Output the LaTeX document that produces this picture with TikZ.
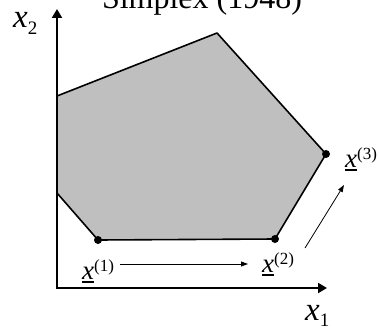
\documentclass[tikz,border=0pt]{standalone}
\usepackage{fontspec}
\setmainfont{Liberation Serif}
\usetikzlibrary{arrows.meta}
\newcommand{\ulx}{\leavevmode\setbox0\hbox{\itshape x}\rlap{\rule[-3.5pt]{\wd0}{1.6pt}}\box0}
\newcommand{\supr}[1]{\raisebox{7.5pt}{\fontsize{17}{17}\selectfont(#1)}}
\newcommand{\subr}[1]{\raisebox{-6pt}{\fontsize{19}{19}\selectfont#1}}
\begin{document}
\begin{tikzpicture}[x=1pt,y=-1pt,
  axis/.style={line width=2pt,line join=miter,{Triangle[length=9pt,width=10pt]}-{Triangle[length=9pt,width=10pt]}},
  edge/.style={line width=1.6pt,line join=round},
  region/.style={fill=black!25},
  move/.style={line width=0.8pt,-{Triangle[length=7pt,width=5pt]}},
  vertex/.style={circle,fill=black,inner sep=0pt,minimum size=8pt},
  lbl/.style={inner sep=0pt,anchor=base west,font=\fontsize{27}{27}\selectfont},
  axlbl/.style={inner sep=0pt,anchor=base west,font=\fontsize{33}{33}\selectfont\itshape},
  title/.style={inner sep=0pt,anchor=base,font=\fontsize{32}{32}\selectfont}]
\useasboundingbox (0,0) rectangle (379,329);
% polygon corners
\coordinate (p1) at (57,96);
\coordinate (p2) at (217,33);
\coordinate (p3) at (326,154);
\coordinate (p4) at (275,239);
\coordinate (p5) at (98,240);
\coordinate (p6) at (57,193);
\fill[region] (p1) -- (p2) -- (p3) -- (p4) -- (p5) -- (p6) -- cycle;
\draw[edge] (p1) -- (p2) -- (p3) -- (p4) -- (p5) -- (p6);
% axes
\coordinate (O) at (57,288);
\coordinate (Y) at (57,9);
\coordinate (X) at (327,288);
\draw[axis] (Y) -- (O) -- (X);
% vertices
\node[vertex] (v1) at (p5) {};
\node[vertex] (v2) at (p4) {};
\node[vertex] (v3) at (p3) {};
% labels
\node[title] (t) at (202,9) {Simplex (1948)};
\node[axlbl] (lx2) at (13,28) {x\subr{\upshape 2}};
\node[axlbl] (lx1) at (305,320) {x\subr{\upshape 1}};
\node[lbl] (l1) at (82,279) {\ulx\supr{1}};
\node[lbl] (l2) at (262,272) {\ulx\supr{2}};
\node[lbl] (l3) at (345,167) {\ulx\supr{3}};
% moves
\coordinate (a1s) at (120,264);
\coordinate (a1e) at (248,264);
\coordinate (a2s) at (305,248);
\coordinate (a2e) at (344,185);
\draw[move] (a1s) -- (a1e);
\draw[move] (a2s) -- (a2e);
\end{tikzpicture}
\end{document}
